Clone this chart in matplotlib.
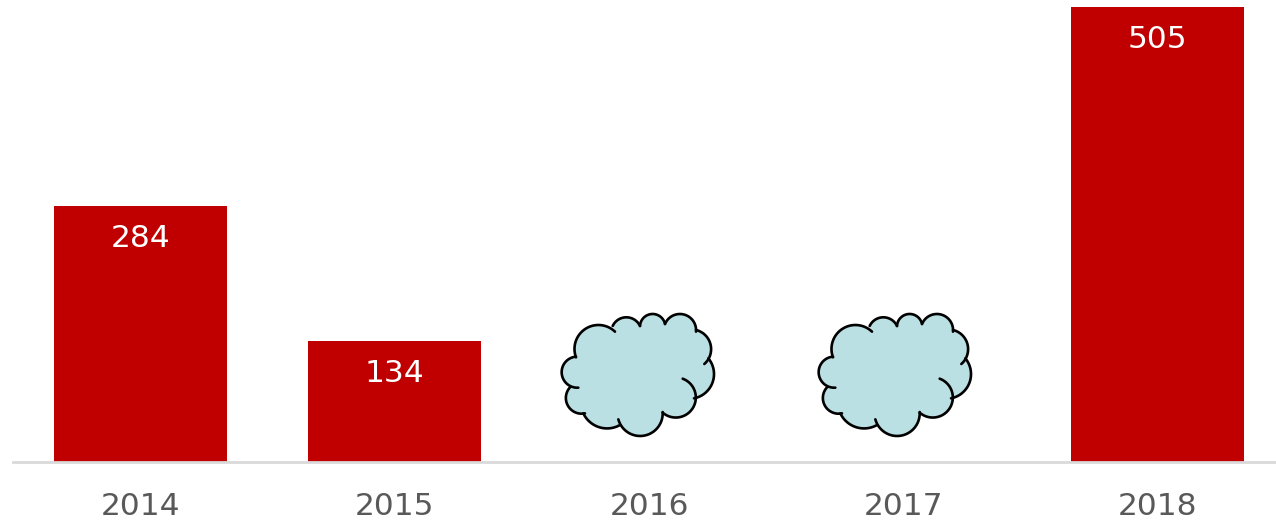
import numpy as np
import matplotlib
matplotlib.use('Agg')
import matplotlib.pyplot as plt

years = ['2014', '2015', '2016', '2017', '2018']
values = [284, 134, None, None, 505]

COLOR_BAR = '#C00000'
COLOR_CLOUD = '#BBE0E3'
COLOR_TICK = '#595959'
COLOR_AXIS = '#D9D9D9'

W, H = 1276, 521
BASE_PX = 462
PX_PER_UNIT = 455 / 505
PX_PER_CAT = 254.25

# arcos de la nube: (inicio, punto medio, fin), en tercios de px respecto a su esquina
cloud_arcs = [
    ((108, 172), (175, 75), (225, 95)),
    ((218, 78), (262, 52), (300, 78)),
    ((300, 78), (340, 42), (375, 72)),
    ((375, 72), (420, 42), (468, 95)),
    ((468, 90), (512, 135), (493, 192)),
    ((505, 175), (522, 220), (462, 295)),
    ((428, 236), (458, 325), (368, 338)),
    ((368, 336), (300, 408), (235, 358)),
    ((240, 375), (195, 385), (130, 340)),
    ((135, 340), (78, 300), (90, 262)),
    ((115, 263), (65, 215), (108, 170)),
]
# esquina de cada nube en px
cloud_corners = [(540, 300), (797, 300)]


def arc_points(p0, p1, p2, n=30):
    x0, y0 = p0
    x1, y1 = p1
    x2, y2 = p2
    d = 2 * (x0 * (y1 - y2) + x1 * (y2 - y0) + x2 * (y0 - y1))
    ux = ((x0**2 + y0**2) * (y1 - y2) + (x1**2 + y1**2) * (y2 - y0) + (x2**2 + y2**2) * (y0 - y1)) / d
    uy = ((x0**2 + y0**2) * (x2 - x1) + (x1**2 + y1**2) * (x0 - x2) + (x2**2 + y2**2) * (x1 - x0)) / d
    r = np.hypot(x0 - ux, y0 - uy)
    a0 = np.arctan2(y0 - uy, x0 - ux)
    a1 = a0 + (np.arctan2(y1 - uy, x1 - ux) - a0) % (2 * np.pi)
    a2 = a0 + (np.arctan2(y2 - uy, x2 - ux) - a0) % (2 * np.pi)
    if a1 > a2:
        a2 = a2 - 2 * np.pi
    t = np.linspace(a0, a2, n)
    return ux + r * np.cos(t), uy + r * np.sin(t)


def to_data(px, py):
    return (np.asarray(px, float) - 140.5) / PX_PER_CAT, (BASE_PX - np.asarray(py, float)) / PX_PER_UNIT


fig = plt.figure(figsize=(W / 100, H / 100), dpi=100)
ax = fig.add_axes([13 / W, (H - BASE_PX) / H, 1 - 13 / W, BASE_PX / H])
ax.set_xlim(-127.5 / PX_PER_CAT, (W - 140.5) / PX_PER_CAT)
ax.set_ylim(0, BASE_PX / PX_PER_UNIT)

x = np.arange(len(years))
bar_x = [i for i, v in enumerate(values) if v is not None]
bar_v = [v for v in values if v is not None]
ax.bar(bar_x, bar_v, width=173 / PX_PER_CAT, color=COLOR_BAR, zorder=2)

for i, v in zip(bar_x, bar_v):
    ax.annotate(str(v), (i, v), xytext=(0, -23.5), textcoords='offset points',
                ha='center', va='center', color='white', fontsize=22.5)

for cx, cy in cloud_corners:
    fill_x, fill_y = [], []
    for p0, p1, p2 in cloud_arcs:
        xs, ys = arc_points(p0, p1, p2)
        fill_x.extend(xs / 3 + cx)
        fill_y.extend(ys / 3 + cy)
    dx, dy = to_data(fill_x, fill_y)
    ax.fill(dx, dy, color=COLOR_CLOUD, lw=0, zorder=3)
    for p0, p1, p2 in cloud_arcs:
        xs, ys = arc_points(p0, p1, p2)
        dx, dy = to_data(xs / 3 + cx, ys / 3 + cy)
        ax.plot(dx, dy, color='black', lw=1.9, solid_capstyle='round', zorder=4)

ax.set_xticks(x)
ax.set_xticklabels(years, fontsize=22.5, color=COLOR_TICK)
ax.tick_params(axis='x', length=0, pad=21.5)
ax.set_yticks([])
for s in ['top', 'right', 'left']:
    ax.spines[s].set_visible(False)
ax.spines['bottom'].set_color(COLOR_AXIS)
ax.spines['bottom'].set_linewidth(2)

fig.savefig('out.png', dpi=100, facecolor='white')
